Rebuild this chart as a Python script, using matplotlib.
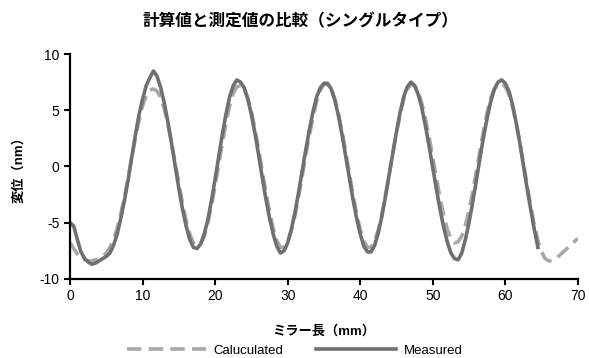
import matplotlib
matplotlib.use("Agg")
import matplotlib.pyplot as plt
import numpy as np

plt.rcParams['font.family'] = ['Liberation Sans', 'Noto Sans CJK JP', 'DejaVu Sans']
plt.rcParams['axes.unicode_minus'] = False

# 計算値 (0〜70 mm, 0.5 mm刻み)
calc_x = np.arange(0, 70.01, 0.5)
calc_y = [-6.8, -7.3, -7.8, -8.1, -8.3, -8.4, -8.4, -8.3, -8.2, -8.0,
          -7.7, -7.2, -6.5, -5.5, -4.2, -2.7, -1.0, 0.8, 2.5, 4.1,
          5.4, 6.3, 6.8, 6.9, 6.7, 6.1, 5.1, 3.7, 2.1, 0.3,
          -1.5, -3.3, -4.8, -6.0, -6.8, -7.1, -6.9, -6.2, -5.0, -3.5,
          -1.7, 0.2, 2.1, 3.9, 5.4, 6.5, 7.1, 7.2, 6.9, 6.1,
          4.9, 3.3, 1.5, -0.4, -2.3, -4.0, -5.5, -6.6, -7.2, -7.2,
          -6.7, -5.7, -4.4, -2.7, -0.9, 1.0, 2.8, 4.4, 5.8, 6.8,
          7.3, 7.3, 6.9, 6.0, 4.7, 3.1, 1.3, -0.6, -2.5, -4.2,
          -5.6, -6.6, -7.2, -7.2, -6.6, -5.6, -4.2, -2.5, -0.7, 1.2,
          3.0, 4.6, 6.0, 6.9, 7.3, 7.2, 6.6, 5.6, 4.2, 2.6,
          0.8, -1.0, -2.8, -4.3, -5.6, -6.4, -6.8, -6.7, -6.2, -5.2,
          -3.9, -2.3, -0.5, 1.4, 3.2, 4.8, 6.1, 6.9, 7.3, 7.4,
          7.1, 6.4, 5.3, 3.9, 2.2, 0.3, -1.6, -3.5, -5.2, -6.6,
          -7.6, -8.2, -8.4, -8.4, -8.2, -7.9, -7.6, -7.3, -7.0, -6.7,
          -6.4]

# 測定値 (0〜64.5 mm, 0.5 mm刻み)
meas_x = np.arange(0, 64.51, 0.5)
meas_y = [-5.0, -5.3, -6.5, -7.6, -8.2, -8.5, -8.7, -8.6, -8.4, -8.2,
          -8.0, -7.7, -7.0, -6.0, -4.6, -3.0, -1.2, 0.8, 2.8, 4.6,
          6.0, 7.2, 7.9, 8.5, 8.0, 7.0, 5.6, 3.9, 2.0, 0.0,
          -2.0, -3.8, -5.3, -6.5, -7.2, -7.3, -6.9, -6.0, -4.7, -3.0,
          -1.1, 0.9, 2.9, 4.7, 6.2, 7.2, 7.7, 7.5, 7.0, 6.0,
          4.6, 2.9, 1.0, -1.0, -2.9, -4.6, -6.0, -7.1, -7.7, -7.5,
          -6.8, -5.6, -4.1, -2.3, -0.4, 1.5, 3.3, 4.9, 6.2, 7.0,
          7.4, 7.4, 6.9, 5.9, 4.5, 2.8, 0.9, -1.0, -2.9, -4.6,
          -6.0, -7.1, -7.6, -7.6, -7.0, -5.9, -4.4, -2.6, -0.7, 1.2,
          3.1, 4.8, 6.2, 7.1, 7.5, 7.2, 6.4, 5.2, 3.6, 1.8,
          -0.1, -2.0, -3.8, -5.4, -6.7, -7.7, -8.2, -8.3, -7.7, -6.5,
          -5.0, -3.2, -1.3, 0.7, 2.6, 4.3, 5.8, 6.9, 7.5, 7.7,
          7.4, 6.7, 5.5, 3.9, 2.1, 0.1, -1.9, -3.8, -5.6, -7.2]

fig = plt.figure(figsize=(5.89, 3.58), dpi=100)
ax = fig.add_axes([0.119, 0.221, 0.862, 0.628])

ax.plot(calc_x, calc_y, color='#a8a8a8', lw=2.6, ls=(0, (4, 2)), label='Caluculated')
ax.plot(meas_x, meas_y, color='#707070', lw=2.6, label='Measured')

ax.set_xlim(0, 70)
ax.set_ylim(-10, 10)
ax.set_xticks(range(0, 71, 10))
ax.set_yticks(range(-10, 11, 5))
for s in ['top', 'right']:
    ax.spines[s].set_visible(False)
for s in ['left', 'bottom']:
    ax.spines[s].set_linewidth(1.6)
    ax.spines[s].set_color('black')
ax.tick_params(direction='out', length=4, width=1.5, labelsize=10)

ax.set_xlabel('ミラー長（mm）', fontsize=9.5, fontweight='bold', labelpad=16)
ax.set_ylabel('変位（nm）', fontsize=9.5, fontweight='bold', labelpad=10)
fig.text(0.51, 0.94, '計算値と測定値の比較（シングルタイプ）', ha='center', va='center',
         fontsize=12, fontweight='bold')

fig.legend(loc='lower center', bbox_to_anchor=(0.5, -0.03), ncol=2, frameon=False,
           fontsize=9.5, handlelength=6, columnspacing=2.5, handletextpad=0.6)

fig.savefig('out.png', dpi=100)
